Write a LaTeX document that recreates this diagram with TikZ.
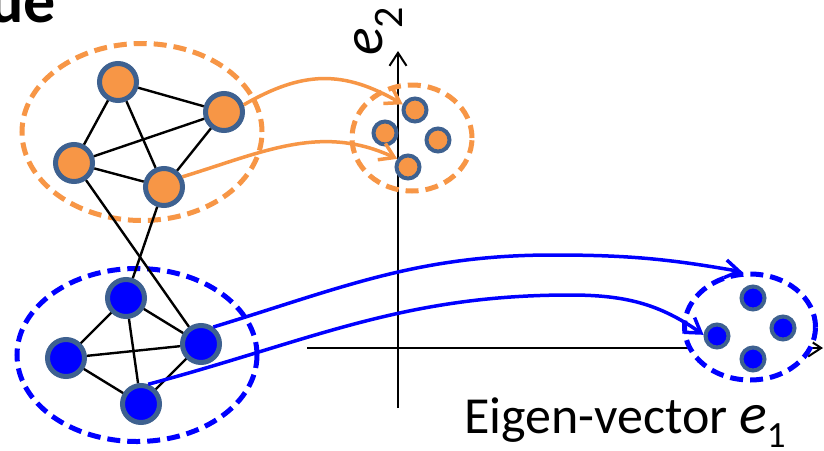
\documentclass[tikz,border=0pt]{standalone}
\usepackage{fontspec}
\setmainfont{Carlito}
\usetikzlibrary{arrows.meta,shapes.geometric}
\definecolor{oorange}{HTML}{F79646}
\definecolor{nborder}{HTML}{3E6190}
\definecolor{bblue}{HTML}{0000FF}
\begin{document}
\begin{tikzpicture}[x=1pt,y=-1pt,
  bignode/.style={circle, draw=nborder, line width=5pt, minimum size=37pt, inner sep=0pt},
  smallnode/.style={circle, draw=nborder, line width=4pt, minimum size=23pt, inner sep=0pt},
  edgeline/.style={black, line width=2.4pt},
  clusterO/.style={ellipse, draw=oorange, line width=5pt, dash pattern=on 13pt off 7pt, inner sep=0pt},
  clusterB/.style={ellipse, draw=bblue, line width=5pt, dash pattern=on 13pt off 7pt, inner sep=0pt},
  axisline/.style={black, line width=2pt, -{Straight Barb[length=13pt,width=17pt,line width=2pt]}},
  oarrow/.style={oorange, line width=3.5pt, -{Straight Barb[length=14pt,width=18pt,line width=3.5pt]}},
  barrow/.style={bblue, line width=3.5pt, -{Straight Barb[length=14pt,width=18pt,line width=3.5pt]}}
]
\useasboundingbox (0,0) rectangle (824,450);
\fill[white] (0,0) rectangle (824,450);

% title fragment
\node[anchor=base east, inner sep=0pt, font=\fontsize{64}{70}\selectfont\bfseries] (title) at (56,22) {ue};

% axes
\coordinate (yb) at (398,408);
\coordinate (yt) at (398,51);
\coordinate (xl) at (307,348);
\coordinate (xr) at (823,348);
\draw[axisline] (yb) -- (yt);
\draw[axisline] (xl) -- (xr);

% axis labels
\node[rotate=90, anchor=base west, inner sep=0pt] (e2) at (382,56)
  {\fontsize{58}{60}\selectfont\itshape e\raisebox{-20pt}{\fontsize{42}{44}\selectfont\upshape 2}};
\node[anchor=base west, inner sep=0pt] (e1) at (464,433)
  {\fontsize{52}{56}\selectfont Eigen-vector \fontsize{58}{60}\selectfont\itshape e\raisebox{-14pt}{\fontsize{37}{40}\selectfont\upshape 1}};

% cluster ellipses
\node[clusterO, minimum width=240pt, minimum height=177pt] (oc) at (142,132) {};
\node[clusterB, minimum width=240pt, minimum height=173pt] (bc0) at (137,355) {};
\node[clusterO, minimum width=120pt, minimum height=106pt] (sc) at (412,138) {};
\node[clusterB, fill=white, minimum width=131pt, minimum height=106pt] (bc) at (750,327) {};

% big graph nodes
\node[bignode, fill=oorange] (o1) at (118,82) {};
\node[bignode, fill=oorange] (o2) at (224,112) {};
\node[bignode, fill=oorange] (o3) at (74,163) {};
\node[bignode, fill=oorange] (o4) at (164,187) {};
\node[bignode, fill=bblue] (b1) at (126,298) {};
\node[bignode, fill=bblue] (b2) at (201,344) {};
\node[bignode, fill=bblue] (b3) at (66,358) {};
\node[bignode, fill=bblue] (b4) at (141,404) {};

% edges
\draw[edgeline] (o1) -- (o2);
\draw[edgeline] (o1) -- (o3);
\draw[edgeline] (o1) -- (o4);
\draw[edgeline] (o2) -- (o3);
\draw[edgeline] (o2) -- (o4);
\draw[edgeline] (o3) -- (o4);
\draw[edgeline] (b1) -- (b2);
\draw[edgeline] (b1) -- (b3);
\draw[edgeline] (b1) -- (b4);
\draw[edgeline] (b2) -- (b3);
\draw[edgeline] (b2) -- (b4);
\draw[edgeline] (b3) -- (b4);
\draw[edgeline] (o3) -- (b2);
\draw[edgeline] (o4) -- (b1);

% small embedded nodes
\node[smallnode, fill=oorange] (s1) at (415,110) {};
\node[smallnode, fill=oorange] (s2) at (385,133) {};
\node[smallnode, fill=oorange] (s3) at (438,140) {};
\node[smallnode, fill=oorange] (s4) at (408,167) {};
\node[smallnode, fill=bblue] (t1) at (753,298) {};
\node[smallnode, fill=bblue] (t2) at (717,336) {};
\node[smallnode, fill=bblue] (t3) at (783,328) {};
\node[smallnode, fill=bblue] (t4) at (753,359) {};

% mapping arrows
\coordinate (bp1) at (553,255);
\coordinate (bp2) at (570,295);
\draw[oarrow] (o2.20) to[out=30,in=150,looseness=1.1] (s1.155);
\draw[oarrow] (o4.29) to[out=17,in=155] (s4.143);
\draw[barrow] (b2.54) to[out=17,in=180] (bp1) to[out=0,in=170] (bc.98);
\draw[barrow] (b4.70) to[out=15,in=180] (bp2) to[out=0,in=145] (t2.175);
\end{tikzpicture}
\end{document}
